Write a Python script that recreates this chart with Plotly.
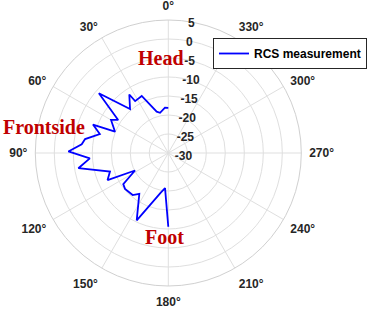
import plotly.graph_objects as go

# RCS measurement (dB) vs aspect angle (deg, 0 = head, 180 = foot)
theta_deg = [0, 4.2, 11.6, 15.7, 25.0, 32.6, 33.7, 41.0, 49.3, 56.6, 60.0, 68.2,
             69.3, 74.5, 80.5, 84.3, 89.1, 93.9, 99.6, 107.6, 114.0, 117.7,
             124.6, 129.7, 139.7, 144.7, 154.9, 169.2, 174.7, 180.0]
rcs_db = [-18.1, -18.05, -19.2, -18.7, -13.45, -13.8, -11.5, -14.65, -5.9, -14.2,
          -12.6, -14.9, -8.8, -11.3, -7.8, -7.1, -3.7, -9.3, -6.0, -13.9, -12.5,
          -20.1, -15.6, -15.2, -15.5, -16.8, -10.4, -19.4, -20.7, -10.6]

r_ticks = [-30, -25, -20, -15, -10, -5, 0, 5]
r_labels = [str(v) for v in r_ticks]
theta_ticks = list(range(0, 360, 30))
theta_labels = [f"{t}°" for t in theta_ticks]

labels = ["Head", "Frontside", "Foot"]
label_xy = [(161, 58), (44, 127), (164, 237)]

W, H = 367, 315
cx, cy, R = 168.3, 153, 133

fig = go.Figure()
fig.add_trace(go.Scatterpolar(
    r=rcs_db, theta=theta_deg, mode="lines",
    line=dict(color="#0000ff", width=1.8),
    name="RCS measurement",
))

fig.update_layout(
    width=W, height=H,
    margin=dict(l=0, r=0, t=0, b=0, autoexpand=False),
    paper_bgcolor="white", plot_bgcolor="white",
    font=dict(family="Liberation Sans, Arial, sans-serif", color="#262626", size=12),
    polar=dict(
        domain=dict(x=[(cx - R) / W, (cx + R) / W],
                    y=[(H - cy - R) / H, (H - cy + R) / H]),
        bgcolor="white",
        angularaxis=dict(
            rotation=90, direction="counterclockwise",
            tickmode="array", tickvals=theta_ticks, ticktext=theta_labels,
            showgrid=True, gridcolor="#dfdfdf", gridwidth=1,
            showline=True, linecolor="#d0d0d0", linewidth=1,
            ticks="outside", ticklen=5, tickcolor="rgba(0,0,0,0)",
            tickfont=dict(size=12, color="#262626", weight="bold"),
        ),
        radialaxis=dict(
            range=[-30, 5], tickmode="array", tickvals=r_ticks, ticktext=r_labels,
            angle=84.3, tickangle=84.3, side="clockwise",
            showgrid=True, gridcolor="#dfdfdf", gridwidth=1,
            showline=False, ticks="",
            tickfont=dict(size=12, color="#262626", weight="bold"),
        ),
    ),
    showlegend=True,
    legend=dict(
        x=213 / W, y=1 - 38 / H, xanchor="left", yanchor="top",
        bgcolor="white", bordercolor="#262626", borderwidth=1,
        font=dict(size=12, color="#000000", weight="bold"),
    ),
)

for text, (x, y) in zip(labels, label_xy):
    fig.add_annotation(
        x=x / W, y=1 - y / H, xref="paper", yref="paper",
        xanchor="center", yanchor="middle",
        text=text, showarrow=False,
        font=dict(family="Liberation Serif, Times New Roman, serif", size=20,
                  color="#c00000", weight="bold"),
    )

fig.write_html("out.html", config={"displayModeBar": False},
               post_script="document.body.style.margin='0px';")
